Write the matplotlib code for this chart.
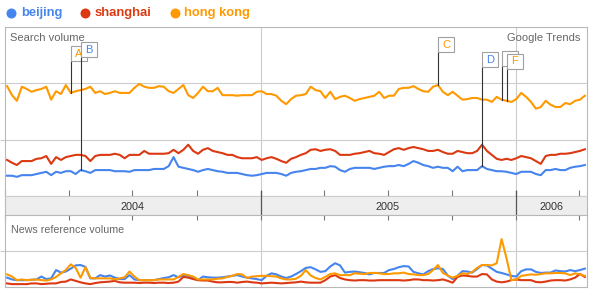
import numpy as np
import pandas as pd
import matplotlib
matplotlib.use('Agg')
import matplotlib.pyplot as plt
import matplotlib.dates as mdates
from matplotlib.patches import Rectangle

plt.rcParams['font.family'] = ['Liberation Sans', 'DejaVu Sans']

# weekly data points, Jan 2004 - Apr 2006
weeks = pd.date_range('2004-01-04', periods=119, freq='7D')

search_hong_kong = [
    1.95, 1.79, 1.69, 1.94, 1.90, 1.85, 1.88, 1.90, 1.94, 1.71,
    1.86, 1.81, 1.97, 1.83, 1.86, 1.88, 1.90, 1.94, 1.83, 1.86,
    1.81, 1.83, 1.86, 1.83, 1.83, 1.83, 1.92, 1.99, 1.94, 1.92,
    1.92, 1.95, 1.94, 1.86, 1.83, 1.90, 1.97, 1.79, 1.74, 1.83,
    1.94, 1.86, 1.86, 1.92, 1.79, 1.79, 1.79, 1.78, 1.79, 1.79,
    1.79, 1.85, 1.86, 1.81, 1.81, 1.78, 1.69, 1.63, 1.72, 1.78,
    1.79, 1.81, 1.94, 1.88, 1.86, 1.74, 1.85, 1.72, 1.76, 1.78,
    1.74, 1.69, 1.72, 1.74, 1.76, 1.78, 1.85, 1.74, 1.78, 1.78,
    1.90, 1.92, 1.92, 1.95, 1.90, 1.86, 1.85, 1.94, 1.97, 1.85,
    1.79, 1.85, 1.78, 1.71, 1.72, 1.74, 1.74, 1.71, 1.71, 1.67,
    1.76, 1.71, 1.69, 1.67, 1.72, 1.83, 1.76, 1.67, 1.55, 1.58,
    1.69, 1.62, 1.58, 1.58, 1.65, 1.63, 1.69, 1.71, 1.78]
search_shanghai = [
    0.64, 0.59, 0.55, 0.62, 0.62, 0.62, 0.66, 0.67, 0.71, 0.57,
    0.69, 0.64, 0.69, 0.71, 0.73, 0.73, 0.71, 0.62, 0.71, 0.73,
    0.73, 0.73, 0.75, 0.73, 0.67, 0.73, 0.73, 0.73, 0.80, 0.75,
    0.75, 0.75, 0.75, 0.76, 0.82, 0.76, 0.82, 0.91, 0.80, 0.75,
    0.82, 0.85, 0.80, 0.78, 0.76, 0.73, 0.73, 0.69, 0.67, 0.67,
    0.67, 0.69, 0.64, 0.67, 0.69, 0.66, 0.62, 0.59, 0.66, 0.69,
    0.73, 0.76, 0.82, 0.83, 0.80, 0.82, 0.83, 0.80, 0.73, 0.73,
    0.73, 0.75, 0.76, 0.78, 0.80, 0.76, 0.75, 0.73, 0.78, 0.83,
    0.85, 0.82, 0.85, 0.87, 0.85, 0.83, 0.80, 0.80, 0.82, 0.78,
    0.75, 0.75, 0.80, 0.78, 0.76, 0.76, 0.80, 0.91, 0.80, 0.73,
    0.66, 0.64, 0.66, 0.64, 0.67, 0.71, 0.69, 0.67, 0.62, 0.57,
    0.71, 0.73, 0.73, 0.75, 0.75, 0.76, 0.78, 0.80, 0.83]
search_beijing = [
    0.36, 0.36, 0.34, 0.37, 0.37, 0.37, 0.39, 0.41, 0.43, 0.37,
    0.43, 0.41, 0.44, 0.44, 0.39, 0.46, 0.44, 0.41, 0.46, 0.46,
    0.46, 0.46, 0.44, 0.44, 0.44, 0.43, 0.46, 0.46, 0.46, 0.46,
    0.48, 0.48, 0.48, 0.53, 0.69, 0.52, 0.50, 0.48, 0.46, 0.43,
    0.46, 0.48, 0.46, 0.44, 0.43, 0.41, 0.41, 0.41, 0.39, 0.37,
    0.36, 0.37, 0.39, 0.41, 0.41, 0.41, 0.39, 0.36, 0.41, 0.43,
    0.44, 0.46, 0.48, 0.48, 0.50, 0.50, 0.53, 0.52, 0.46, 0.43,
    0.48, 0.50, 0.50, 0.50, 0.50, 0.48, 0.50, 0.52, 0.53, 0.53,
    0.55, 0.53, 0.57, 0.62, 0.59, 0.55, 0.53, 0.50, 0.52, 0.50,
    0.50, 0.44, 0.52, 0.44, 0.46, 0.46, 0.46, 0.53, 0.48, 0.46,
    0.44, 0.44, 0.43, 0.41, 0.39, 0.43, 0.43, 0.43, 0.39, 0.37,
    0.46, 0.46, 0.48, 0.46, 0.46, 0.50, 0.52, 0.53, 0.55]

news_hong_kong = [
    0.35, 0.29, 0.19, 0.21, 0.19, 0.20, 0.21, 0.19, 0.18, 0.21,
    0.28, 0.38, 0.47, 0.63, 0.53, 0.26, 0.55, 0.25, 0.24, 0.24,
    0.24, 0.24, 0.21, 0.24, 0.27, 0.43, 0.29, 0.19, 0.19, 0.19,
    0.19, 0.21, 0.21, 0.21, 0.21, 0.28, 0.36, 0.33, 0.29, 0.21,
    0.21, 0.21, 0.21, 0.23, 0.24, 0.28, 0.31, 0.36, 0.35, 0.25,
    0.29, 0.30, 0.31, 0.31, 0.30, 0.29, 0.24, 0.21, 0.21, 0.23,
    0.31, 0.47, 0.32, 0.25, 0.21, 0.28, 0.36, 0.38, 0.33, 0.33,
    0.33, 0.38, 0.37, 0.36, 0.39, 0.39, 0.38, 0.36, 0.36, 0.38,
    0.38, 0.40, 0.36, 0.35, 0.33, 0.33, 0.36, 0.47, 0.61, 0.39,
    0.32, 0.26, 0.31, 0.38, 0.36, 0.42, 0.53, 0.61, 0.61, 0.60,
    0.66, 1.33, 0.80, 0.19, 0.21, 0.31, 0.33, 0.35, 0.34, 0.36,
    0.38, 0.38, 0.39, 0.39, 0.38, 0.33, 0.38, 0.35, 0.31]
news_shanghai = [
    0.10, 0.08, 0.08, 0.08, 0.08, 0.10, 0.10, 0.08, 0.09, 0.10,
    0.10, 0.14, 0.15, 0.21, 0.17, 0.13, 0.10, 0.08, 0.11, 0.13,
    0.14, 0.15, 0.17, 0.13, 0.12, 0.12, 0.12, 0.11, 0.12, 0.12,
    0.11, 0.12, 0.12, 0.11, 0.12, 0.15, 0.28, 0.26, 0.22, 0.19,
    0.18, 0.18, 0.15, 0.13, 0.13, 0.14, 0.14, 0.12, 0.14, 0.15,
    0.13, 0.12, 0.10, 0.11, 0.12, 0.11, 0.10, 0.11, 0.12, 0.13,
    0.15, 0.13, 0.12, 0.12, 0.12, 0.19, 0.29, 0.33, 0.25, 0.21,
    0.19, 0.18, 0.19, 0.19, 0.18, 0.18, 0.19, 0.19, 0.19, 0.19,
    0.19, 0.18, 0.19, 0.21, 0.21, 0.19, 0.19, 0.18, 0.19, 0.21,
    0.17, 0.12, 0.28, 0.32, 0.31, 0.29, 0.29, 0.36, 0.35, 0.21,
    0.15, 0.13, 0.15, 0.19, 0.21, 0.19, 0.19, 0.19, 0.14, 0.13,
    0.15, 0.18, 0.19, 0.19, 0.18, 0.21, 0.26, 0.36, 0.28]
news_beijing = [
    0.26, 0.21, 0.19, 0.19, 0.19, 0.20, 0.21, 0.29, 0.22, 0.24,
    0.47, 0.40, 0.43, 0.51, 0.60, 0.61, 0.56, 0.24, 0.24, 0.33,
    0.29, 0.32, 0.26, 0.22, 0.22, 0.33, 0.21, 0.19, 0.19, 0.19,
    0.19, 0.22, 0.25, 0.27, 0.33, 0.27, 0.32, 0.31, 0.26, 0.19,
    0.29, 0.27, 0.26, 0.26, 0.27, 0.29, 0.31, 0.33, 0.29, 0.26,
    0.24, 0.22, 0.19, 0.31, 0.38, 0.35, 0.29, 0.25, 0.29, 0.36,
    0.44, 0.53, 0.55, 0.49, 0.42, 0.44, 0.57, 0.66, 0.60, 0.40,
    0.42, 0.43, 0.41, 0.39, 0.35, 0.39, 0.39, 0.39, 0.47, 0.50,
    0.55, 0.58, 0.57, 0.42, 0.38, 0.35, 0.44, 0.50, 0.52, 0.50,
    0.32, 0.22, 0.31, 0.44, 0.43, 0.40, 0.50, 0.61, 0.60, 0.51,
    0.42, 0.39, 0.35, 0.31, 0.29, 0.44, 0.49, 0.49, 0.42, 0.39,
    0.40, 0.40, 0.46, 0.44, 0.43, 0.47, 0.44, 0.47, 0.51]

series_names = ['beijing', 'shanghai', 'hong kong']
years = ['2004', '2005', '2006']

# news event flags: letter, series it hangs on, week index
event_letters = ['A', 'B', 'C', 'D', 'E', 'F']
event_series = ['hong kong', 'beijing', 'hong kong', 'beijing', 'hong kong', 'hong kong']
event_week = [13, 15, 88, 97, 101, 102]

colors = {'beijing': '#4684EE', 'shanghai': '#DC3912', 'hong kong': '#FF9900'}
search = {'beijing': search_beijing, 'shanghai': search_shanghai, 'hong kong': search_hong_kong}
news = {'beijing': news_beijing, 'shanghai': news_shanghai, 'hong kong': news_hong_kong}

W, H = 591, 292
fig = plt.figure(figsize=(W / 100, H / 100), dpi=100)
fig.patch.set_facecolor('white')


def px_rect(x0, y0, x1, y1):
    return [x0 / W, 1 - y1 / H, (x1 - x0) / W, (y1 - y0) / H]


ax_s = fig.add_axes(px_rect(5, 27, 587, 196))
ax_b = fig.add_axes(px_rect(5, 196, 587, 215))
ax_n = fig.add_axes(px_rect(5, 215, 587, 287))

x_start = pd.Timestamp('2004-01-01')
x_end = x_start + pd.Timedelta(days=582 * 366 / 256)
year_starts = [pd.Timestamp('2005-01-01'), pd.Timestamp('2006-01-01')]

grid_c = '#cccccc'
frame_c = '#b8b8b8'

for ax, data, ymax in [(ax_s, search, 3), (ax_n, news, 2)]:
    for name in series_names:
        ax.plot(weeks, data[name], color=colors[name], lw=1.5, solid_joinstyle='round', zorder=3)
    ax.set_xlim(x_start, x_end)
    ax.set_ylim(0, ymax)
    for y in range(1, ymax):
        ax.axhline(y, color=grid_c, lw=0.8, zorder=1)
    for d in year_starts:
        ax.axvline(d, color=grid_c, lw=0.8, zorder=1)
    ax.set_yticks(range(1, ymax))
    ax.tick_params(axis='y', direction='out', length=3.6, color=grid_c, width=0.8, labelleft=False)
    ax.xaxis.set_major_locator(mdates.MonthLocator(bymonth=[1, 4, 7, 10]))
    for sp in ax.spines.values():
        sp.set_color(frame_c)
        sp.set_linewidth(0.8)

ax_s.tick_params(axis='x', direction='in', length=4.3, color='#777', width=0.8, labelbottom=False)
ax_n.tick_params(axis='x', direction='in', length=3.6, color='#777', width=0.8,
                 bottom=False, top=True, labelbottom=False)
ax_s.spines['bottom'].set_color(grid_c)

# year band
ax_b.set_facecolor('#eeeeee')
ax_b.set_xlim(x_start, x_end)
ax_b.set_ylim(0, 1)
ax_b.set_xticks([])
ax_b.set_yticks([])
for sp in ax_b.spines.values():
    sp.set_color(frame_c)
    sp.set_linewidth(0.8)
ax_b.spines['top'].set_color(grid_c)
ax_b.spines['bottom'].set_color(grid_c)
for d in year_starts:
    ax_b.axvline(d, ymin=-6 / 19, ymax=1 + 5 / 19, color='#555555', lw=0.9, clip_on=False, zorder=5)
year_mid = [pd.Timestamp('2004-07-01'), pd.Timestamp('2005-07-01'),
            year_starts[1] + (x_end - year_starts[1]) / 2]
for label, d in zip(years, year_mid):
    ax_b.text(d, 0.25, label, ha='center', va='baseline', fontsize=7.8, color='#333333')

# event flags (E sits behind F, so its letter is hidden)
days_per_px = 366 / 256
units_per_px = 3 / 169
flag_bottom_px = [61, 57, 52, 67, 66, 69]
box_w = 16 * days_per_px
box_h = 15 * units_per_px
for k, (letter, name, idx, bpx) in enumerate(zip(event_letters, event_series, event_week, flag_bottom_px)):
    x = mdates.date2num(weeks[idx])
    val = search[name][idx]
    yb = (196 - bpx) * units_per_px
    z = 6 + k * 0.1
    ax_s.plot([x, x], [val, yb], color='#333333', lw=0.8, zorder=z)
    ax_s.add_patch(Rectangle((x + days_per_px, yb - units_per_px), box_w, box_h,
                             fc='#c8c8c8', ec='none', zorder=z + 0.01))
    ax_s.add_patch(Rectangle((x, yb), box_w, box_h, fc='white', ec='#a0a0a0',
                             lw=0.8, zorder=z + 0.02))
    if letter != 'E':
        ax_s.text(x + box_w / 2, yb + box_h / 2, letter, ha='center', va='center',
                  fontsize=8, color=colors[name], zorder=z + 0.03)

# panel captions
fig.text(10 / W, 1 - 41 / H, 'Search volume', fontsize=8, color='#666666', va='baseline')
fig.text(580 / W, 1 - 41 / H, 'Google Trends', fontsize=8, color='#666666', va='baseline', ha='right')
fig.text(11 / W, 1 - 233 / H, 'News reference volume', fontsize=7.7, color='#666666', va='baseline')

# legend
ov = fig.add_axes([0, 0, 1, 1], zorder=10)
ov.set_xlim(0, W)
ov.set_ylim(H, 0)
ov.axis('off')
ov.patch.set_alpha(0)
legend_dot_x = [10.5, 85, 174.5]
legend_text_x = [20.7, 94.3, 184.3]
for name, dx, tx in zip(series_names, legend_dot_x, legend_text_x):
    ov.plot(dx, 12.5, 'o', ms=7.2, color=colors[name], mec='none')
    ov.text(tx, 13, name, fontsize=9.4, fontweight='bold', color=colors[name], va='center')

fig.savefig('out.png', dpi=100, facecolor='white')
